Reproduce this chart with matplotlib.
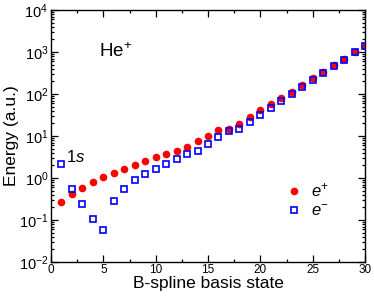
import matplotlib
matplotlib.use("Agg")
import matplotlib.pyplot as plt
from matplotlib.ticker import MultipleLocator, NullFormatter

plt.rcParams["font.family"] = ["Liberation Sans", "DejaVu Sans"]
plt.rcParams["mathtext.fontset"] = "custom"
plt.rcParams["mathtext.rm"] = "Liberation Sans"
plt.rcParams["mathtext.it"] = "Liberation Sans:italic"

# basis state index
states = list(range(1, 31))

# positron energies (a.u.)
e_pos = [0.264, 0.41, 0.59, 0.82, 1.06, 1.34, 1.67, 2.07, 2.5, 3.1,
         3.8, 4.3, 5.6, 7.5, 10.2, 13.6, 15.0, 19.6, 28.0, 41.0,
         57.0, 80.0, 112.0, 162.0, 240.0, 338.0, 486.0, 690.0, 980.0, 1400.0]

# electron energies (a.u.)
e_neg = [2.15, 0.54, 0.236, 0.106, 0.058, 0.28, 0.55, 0.88, 1.24, 1.67,
         2.15, 2.9, 3.66, 4.4, 6.45, 9.6, 13.4, 14.4, 21.5, 31.6,
         46.0, 68.0, 100.0, 147.0, 215.0, 316.0, 456.0, 660.0, 980.0, 1400.0]

fig = plt.figure(figsize=(3.74, 2.98), dpi=100)
ax = fig.add_axes([0.1364, 0.1208, 0.8396, 0.8456])

ax.plot(states, e_pos, "o", color="red", markersize=5.5, markeredgewidth=0,
        label="$e^{+}$", zorder=2)
ax.plot(states, e_neg, "s", color="blue", markerfacecolor="none",
        markersize=4.6, markeredgewidth=1.2, label="$e^{-}$", zorder=3)

ax.set_yscale("log")
ax.set_xlim(0, 30)
ax.set_ylim(1e-2, 1e4)

ax.xaxis.set_major_locator(MultipleLocator(5))
ax.xaxis.set_minor_locator(MultipleLocator(2.5))
decades = range(-2, 5)
ax.set_yticks([10.0 ** k for k in decades])
ax.set_yticks([m * 10.0 ** k for k in decades[:-1] for m in range(2, 10)], minor=True)
ax.yaxis.set_minor_formatter(NullFormatter())

ax.tick_params(which="both", direction="in", top=True, right=True, width=0.9)
ax.tick_params(which="major", length=5)
ax.tick_params(which="minor", length=2.5, labelleft=False, labelbottom=False)
ax.tick_params(axis="x", which="major", labelsize=8.5, pad=1.5)
ax.tick_params(axis="y", which="major", labelsize=10.5, pad=2)
for s in ax.spines.values():
    s.set_linewidth(1.0)

ax.set_xlabel("B-spline basis state", fontsize=12.5, labelpad=0)
ax.set_ylabel("Energy (a.u.)", fontsize=12.5, labelpad=0)

ax.text(4.58, 773, "He$^{+}$", fontsize=13.5, ha="left", va="baseline")
ax.text(1.43, 2.4, "1$\\it{s}$", fontsize=12, ha="left", va="baseline")

ax.legend(loc="upper left", bbox_to_anchor=(0.747, 0.32), frameon=False,
          fontsize=12, handletextpad=0.55, labelspacing=0.25,
          handlelength=1.0, borderaxespad=0, borderpad=0)

fig.savefig("out.png", dpi=100)
